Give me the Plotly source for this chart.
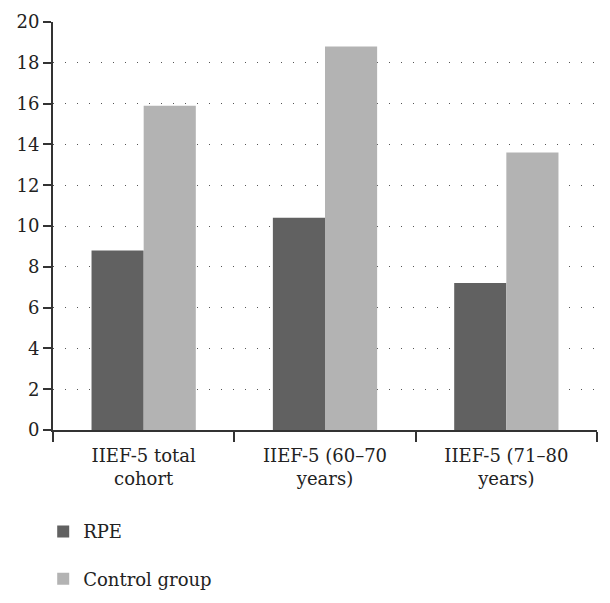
import plotly.graph_objects as go

categories = ["IIEF-5 total<br>cohort", "IIEF-5 (60–70<br>years)", "IIEF-5 (71–80<br>years)"]
rpe_values = [8.8, 10.4, 7.2]
control_values = [15.9, 18.8, 13.6]
y_ticks = [0, 2, 4, 6, 8, 10, 12, 14, 16, 18, 20]

FONT = "DejaVu Serif"

fig = go.Figure()
fig.add_trace(go.Bar(x=categories, y=rpe_values, name="RPE", marker_color="#616161",
                     marker_line_width=0, legendgroup="a"))
fig.add_trace(go.Bar(x=categories, y=control_values, name="Control group", marker_color="#b3b3b3",
                     marker_line_width=0, legendgroup="b"))

fig.update_layout(
    width=610, height=603,
    margin=dict(l=53, r=13, t=22, b=173, autoexpand=False),
    paper_bgcolor="white", plot_bgcolor="white",
    barmode="group", bargap=0.425, bargroupgap=0,
    font=dict(family=FONT, size=18, color="#222"),
    showlegend=True,
    legend=dict(x=-0.018, y=-0.204, xanchor="left", yanchor="top",
                orientation="v", tracegroupgap=21, font=dict(size=18, family=FONT),
                bgcolor="rgba(0,0,0,0)"),
)
fig.update_xaxes(
    showline=True, linecolor="#333", linewidth=2, automargin=False,
    ticks="outside", tickson="boundaries", ticklen=10, tickwidth=2, tickcolor="#333",
    ticklabelstandoff=8,
    showgrid=False, tickfont=dict(size=18, family=FONT),
)
fig.update_yaxes(
    range=[0, 20], tickvals=y_ticks, showline=True, linecolor="#333", linewidth=2,
    automargin=False,
    ticks="outside", ticklen=8, tickwidth=2, tickcolor="#333",
    showgrid=True, gridcolor="#555", gridwidth=1, griddash="1px,11px",
    zeroline=False, tickfont=dict(size=18, family=FONT),
)

fig.write_html("out.html", config={"displayModeBar": False},
               post_script="document.body.style.margin='0';")
